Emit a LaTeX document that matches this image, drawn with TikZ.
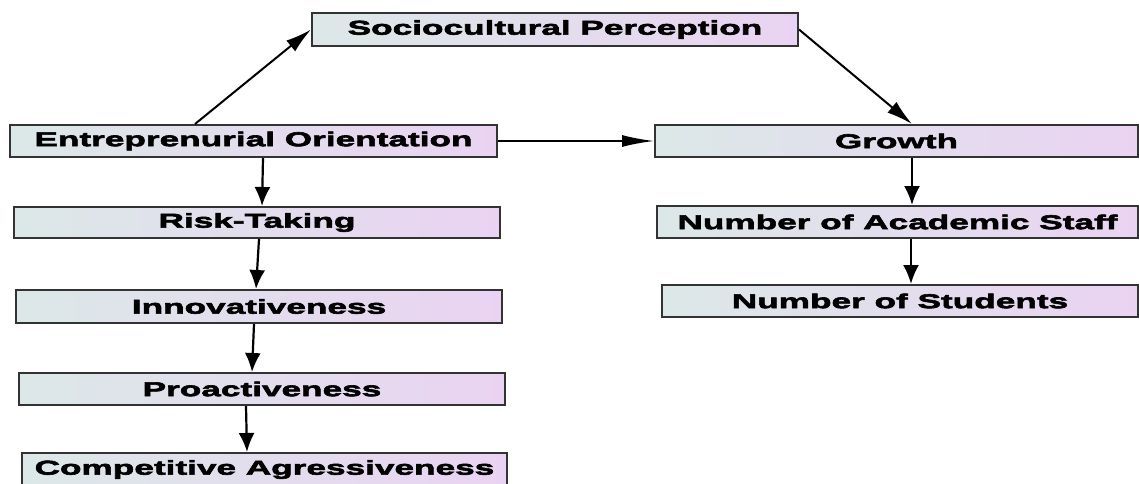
\documentclass[tikz,border=0pt]{standalone}
\usepackage{fontspec}
\setmainfont{Liberation Sans}[FakeStretch=1.76,BoldFeatures={FakeBold=3}]
\usetikzlibrary{arrows.meta}

\definecolor{boxleft}{HTML}{DCE8E8}
\definecolor{boxright}{HTML}{EAD3F2}
\definecolor{boxline}{HTML}{333333}

\begin{document}
\begin{tikzpicture}[x=1pt,y=-1pt,
  box/.style={draw=boxline,line width=2pt,left color=boxleft,right color=boxright,
    minimum height=32pt,inner sep=0pt,font=\fontsize{20}{22}\selectfont\bfseries},
  arr/.style={-{Latex[length=19pt,width=16pt]},line width=2.2pt},
  harr/.style={-{Latex[length=32pt,width=12pt]},line width=1.8pt},
  darr/.style={-{Latex[length=26pt,width=14pt]},line width=2pt}]
  \useasboundingbox (0,0) rectangle (1139,483);
  \clip (0,0) rectangle (1139,483);

  \node[box,minimum width=486pt,minimum height=33pt] (sp) at (555,29.5) {Sociocultural Perception};
  \node[box,minimum width=487pt] (eo) at (253.5,141) {Entreprenurial Orientation};
  \node[box,minimum width=483pt] (gr) at (896.5,141) {Growth};
  \node[box,minimum width=486pt,minimum height=31pt] (rt) at (257,222.5) {Risk-Taking};
  \node[box,minimum width=486pt,minimum height=33pt] (inn) at (259,306.5) {Innovativeness};
  \node[box,minimum width=486pt] (pa) at (262,389) {Proactiveness};
  \node[box,minimum width=485pt,minimum height=33pt] (ca) at (264.5,469.5) {Competitive Agressiveness};
  \node[box,minimum width=481pt] (nas) at (897.5,222) {Number of Academic Staff};
  \node[box,minimum width=476pt] (nos) at (900,301) {Number of Students};

  \draw[darr] ([xshift=-58.5pt]eo.north) -- (sp.west);
  \draw[darr] (sp.east) -- ([xshift=15.5pt]gr.north);
  \draw[harr] (eo.east) -- (gr.west);
  \draw[arr] ([xshift=9.5pt]eo.south) -- ([xshift=5pt]rt.north);
  \draw[arr] ([xshift=2pt]rt.south) -- ([xshift=-3pt]inn.north);
  \draw[arr] ([xshift=-5pt]inn.south) -- ([xshift=-10pt]pa.north);
  \draw[arr] ([xshift=-16pt]pa.south) -- ([xshift=-17.5pt]ca.north);
  \draw[arr] ([xshift=15.5pt]gr.south) -- ([xshift=14.5pt]nas.north);
  \draw[arr] ([xshift=13.5pt]nas.south) -- ([xshift=11pt]nos.north);
\end{tikzpicture}
\end{document}
